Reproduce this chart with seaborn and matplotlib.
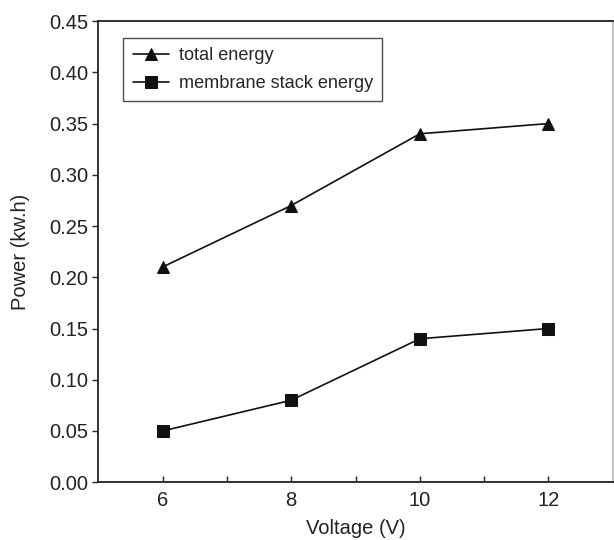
import matplotlib
matplotlib.use("Agg")
import matplotlib.pyplot as plt
import seaborn as sns
import pandas as pd

voltage = [6, 8, 10, 12]
total_energy = [0.21, 0.27, 0.34, 0.35]
stack_energy = [0.05, 0.08, 0.14, 0.15]
series_names = ["total energy", "membrane stack energy"]

df = pd.DataFrame({
    "Voltage": voltage * 2,
    "Power": total_energy + stack_energy,
    "series": [series_names[0]] * 4 + [series_names[1]] * 4,
})

sns.set_style("white")
plt.rcParams["font.family"] = ["Liberation Sans", "DejaVu Sans"]

fig, ax = plt.subplots(figsize=(6.14, 5.4), dpi=100)
fig.subplots_adjust(left=0.16, right=0.998, top=0.961, bottom=0.107)

sns.lineplot(data=df, x="Voltage", y="Power", style="series", hue="series",
             palette=["#111111", "#111111"], dashes=False, markers=["^", "s"],
             markersize=8.5, markeredgecolor="#111111", linewidth=1.2, ax=ax)

ax.set_xlim(5, 13)
ax.set_ylim(0, 0.45)
ax.set_xticks([6, 7, 8, 9, 10, 11, 12])
ax.set_xticklabels(["6", "", "8", "", "10", "", "12"])
ax.set_yticks([i * 0.05 for i in range(10)])
ax.set_yticklabels([f"{i * 0.05:.2f}" for i in range(10)])
ax.tick_params(axis="x", bottom=True, direction="in", length=4, width=1, pad=6,
               labelsize=14.5, colors="#222222")
ax.tick_params(axis="y", left=True, direction="out", length=4, width=1, pad=3,
               labelsize=14.5, colors="#222222")
ax.set_xlabel("Voltage (V)", fontsize=14.5, color="#222222", labelpad=7)
ax.set_ylabel("Power (kw.h)", fontsize=14.5, color="#222222", labelpad=14)

for name, sp in ax.spines.items():
    sp.set_color("#222222")
    sp.set_linewidth(1.3)
ax.spines["right"].set_color("#bbbbbb")

leg = ax.legend(loc="upper left", bbox_to_anchor=(0.049, 0.963), fontsize=13.1,
                frameon=True, fancybox=False, edgecolor="#222222",
                handlelength=2.0, handletextpad=0.55, borderpad=0.5,
                labelspacing=0.6, borderaxespad=0)
leg.get_frame().set_linewidth(1.0)

fig.savefig("out.png", dpi=100)
